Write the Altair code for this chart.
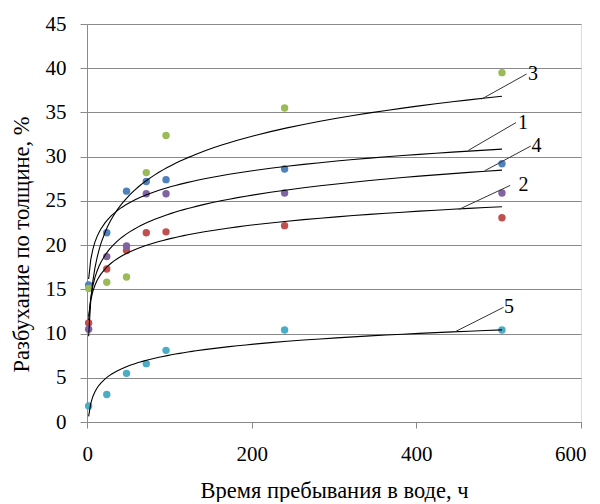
import altair as alt
import pandas as pd

# ---- data ----
hours = [2, 24, 48, 72, 96, 240, 504]
series_names = ["1", "2", "3", "4", "5"]
s1 = [15.5, 21.4, 26.1, 27.2, 27.4, 28.6, 29.2]
s2 = [11.2, 17.3, 19.4, 21.4, 21.5, 22.2, 23.1]
s3 = [15.1, 15.8, 16.4, 28.2, 32.4, 35.5, 39.5]
s4 = [10.5, 18.7, 19.9, 25.8, 25.8, 25.9, 25.9]
s5 = [1.8, 3.1, 5.5, 6.6, 8.1, 10.4, 10.4]
colors = ["#4F81BD", "#C0504D", "#9BBB59", "#8064A2", "#4BACC6"]

x_ticks = [0, 200, 400, 600]
y_ticks = [0, 5, 10, 15, 20, 25, 30, 35, 40, 45]

# curve labels with leader lines (data coordinates)
lab_text = ["3", "1", "4", "2", "5"]
lab_x0 = [479, 463, 483, 452, 447]
lab_y0 = [36.5, 30.7, 28.4, 24.05, 10.2]
lab_x1 = [534, 521, 539, 514, 506]
lab_y1 = [39.35, 33.85, 31.2, 26.75, 12.97]
lab_tx = [535.5, 523.5, 540, 524, 506.5]

rows = []
for name, vals in zip(series_names, [s1, s2, s3, s4, s5]):
    for h, v in zip(hours, vals):
        rows.append({"series": name, "x": h, "y": v})
df = pd.DataFrame(rows)

ann = pd.DataFrame({"label": lab_text, "x0": lab_x0, "y0": lab_y0,
                    "x1": lab_x1, "y1": lab_y1, "tx": lab_tx})

FONT = "'Liberation Serif', 'Times New Roman', 'DejaVu Serif', serif"
GRID = "#8a8a8a"

xscale = alt.Scale(domain=[0, 600], nice=False)
yscale = alt.Scale(domain=[0, 45], nice=False)

xaxis = alt.Axis(values=x_ticks, grid=False, title="Время пребывания в воде, ч",
                 domainColor=GRID, tickColor=GRID, tickSize=6, labelPadding=15,
                 labelFlush=True, labelFlushOffset=5,
                 labelFont=FONT, labelFontSize=21, labelColor="#000000",
                 titleFont=FONT, titleFontSize=22.5, titleFontWeight="normal",
                 titleColor="#000000", titleY=75, titleBaseline="alphabetic")
yaxis = alt.Axis(values=y_ticks, grid=True, gridColor=GRID, title="Разбухание по толщине, %",
                 domainColor=GRID, tickColor=GRID, tickSize=7, labelPadding=14,
                 labelFlush=False,
                 labelFont=FONT, labelFontSize=21, labelColor="#000000",
                 titleFont=FONT, titleFontSize=22.5, titleFontWeight="normal",
                 titleColor="#000000", titleX=-59, titleY=220, titleBaseline="alphabetic",
                 titleAngle=270, titleAlign="center")

color = alt.Color("series:N", scale=alt.Scale(domain=series_names, range=colors), legend=None)

points = alt.Chart(df).mark_circle(size=55, opacity=1).encode(
    x=alt.X("x:Q", scale=xscale, axis=xaxis),
    y=alt.Y("y:Q", scale=yscale, axis=yaxis),
    color=color,
)

trend = alt.Chart(df).transform_regression(
    "x", "y", groupby=["series"], method="log", extent=[2, 504]
).mark_line(color="#000000", strokeWidth=1.1).encode(
    x=alt.X("x:Q", scale=xscale),
    y=alt.Y("y:Q", scale=yscale),
    detail="series:N",
)

leaders = alt.Chart(ann).mark_rule(color="#333333", strokeWidth=1).encode(
    x=alt.X("x0:Q", scale=xscale), y=alt.Y("y0:Q", scale=yscale),
    x2="x1:Q", y2="y1:Q",
)

labels = alt.Chart(ann).mark_text(font=FONT, fontSize=20, align="left",
                                  baseline="middle", color="#000000").encode(
    x=alt.X("tx:Q", scale=xscale), y=alt.Y("y1:Q", scale=yscale), text="label:N",
)

chart = alt.layer(points, trend, leaders, labels).properties(
    width=494, height=398,
    autosize=alt.AutoSizeParams(type="none"),
    padding={"left": 79, "top": 16, "right": 11, "bottom": 80},
).configure_view(stroke=None).configure(background="#ffffff")

chart.save("out.html", embed_options={"renderer": "svg", "actions": False})
